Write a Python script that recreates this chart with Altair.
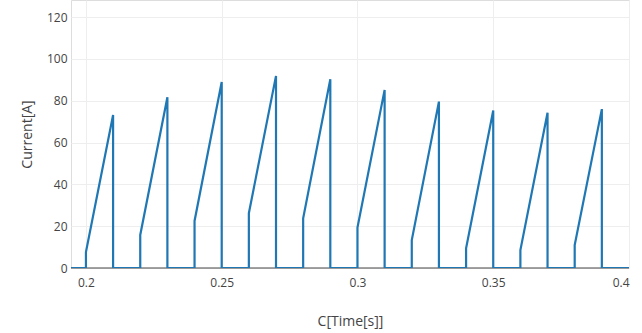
import altair as alt
import pandas as pd

# Pulse data
pulse_on = [0.20, 0.22, 0.24, 0.26, 0.28, 0.30, 0.32, 0.34, 0.36, 0.38]
pulse_off = [0.21, 0.23, 0.25, 0.27, 0.29, 0.31, 0.33, 0.35, 0.37, 0.39]
start_current = [7.6, 15.8, 22.5, 26.2, 23.8, 19.3, 13.4, 9.4, 8.6, 11.0]
peak_current = [73.2, 81.7, 89.0, 91.9, 90.3, 85.2, 79.6, 75.3, 74.3, 76.0]
t_begin = 0.1945
t_end = 0.40

x_ticks = [0.2, 0.25, 0.3, 0.35, 0.4]
y_ticks = [0, 20, 40, 60, 80, 100, 120]

ts, cs = [t_begin], [0.0]
for on, off, s, p in zip(pulse_on, pulse_off, start_current, peak_current):
    ts += [on, on, off, off]
    cs += [0.0, s, p, 0.0]
ts.append(t_end)
cs.append(0.0)
df = pd.DataFrame({"t": ts, "i": cs, "k": list(range(len(ts)))})

FONT = "Open Sans"

line = alt.Chart(df).mark_line(color="#1f77b4", strokeWidth=2.2, clip=True).encode(
    x=alt.X("t:Q", scale=alt.Scale(domain=[t_begin, t_end], nice=False, zero=False),
            axis=alt.Axis(values=x_ticks, format="~g", title="C[Time[s]]",
                          grid=True, gridColor="#eeeeee", domain=False, ticks=False,
                          labelPadding=9, labelFont=FONT, labelFontSize=12, labelColor="#444444",
                          titleFont=FONT, titleFontSize=14, titleFontWeight="normal",
                          titleColor="#444444", titlePadding=26)),
    y=alt.Y("i:Q", scale=alt.Scale(domain=[0, 128.2], nice=False),
            axis=alt.Axis(values=y_ticks, title="Current[A]",
                          grid=True, gridColor="#eeeeee", domain=False, ticks=False,
                          labelPadding=4, labelFont=FONT, labelFontSize=12, labelColor="#444444",
                          titleFont=FONT, titleFontSize=14, titleFontWeight="normal",
                          titleColor="#444444", titlePadding=12)),
    order="k:Q",
)

zero = alt.Chart(pd.DataFrame({"z": [0]})).mark_rule(color="#444444", strokeWidth=1).encode(
    y="z:Q"
)

chart = alt.layer(zero, line).properties(
    width=558, height=268,
    autosize=alt.AutoSizeParams(type="none"),
    padding={"left": 71, "top": 0, "right": 13, "bottom": 65},
).configure_view(stroke=None).configure(background="white")

chart.save("out.html", embed_options={"renderer": "svg", "actions": False})
